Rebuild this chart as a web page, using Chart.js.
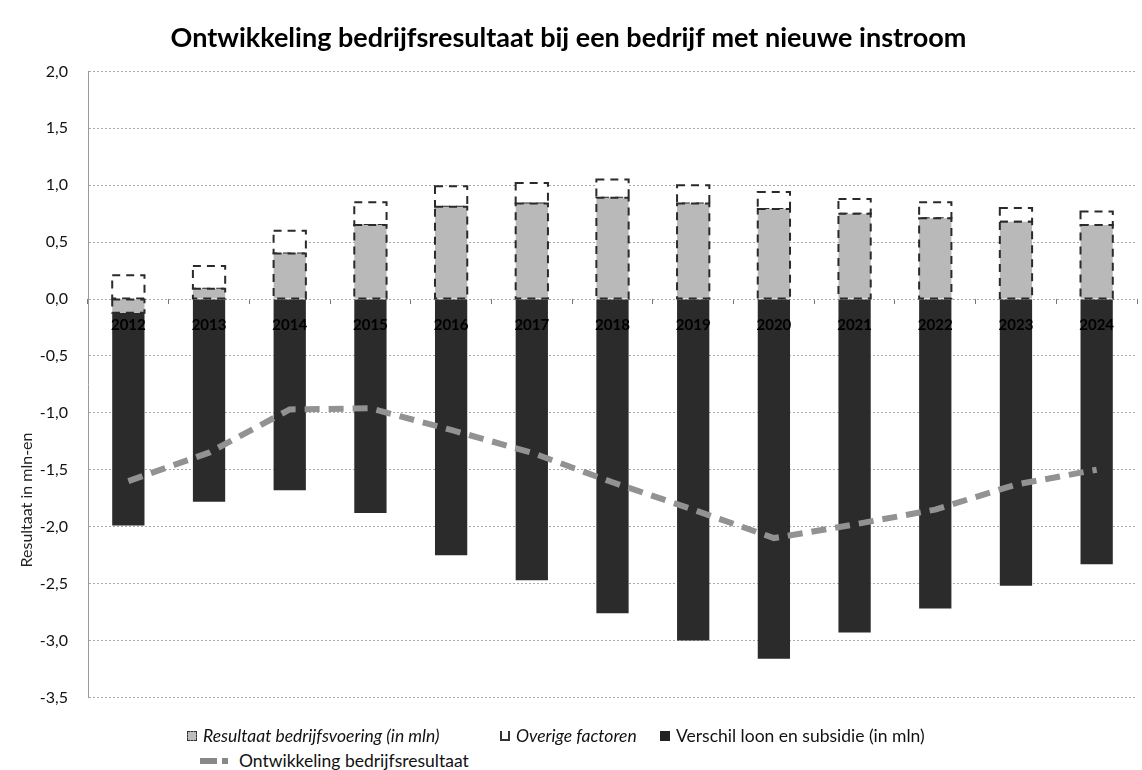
<!DOCTYPE html>
<html>
<head>
<meta charset="utf-8">
<script src="https://cdn.jsdelivr.net/npm/chart.js@4.4.1/dist/chart.umd.min.js"></script>
<style>
  html, body { margin: 0; padding: 0; background: #fff; overflow: hidden; }
  #wrap { position: relative; width: 1142px; height: 770px; font-family: Lato, sans-serif; }
  #chartBox { position: absolute; left: 0; top: 0; width: 1142px; height: 727px; }
  .lg { position: absolute; font-size: 17.5px; line-height: 20px; color: #111; white-space: nowrap; display: flex; align-items: center; }
  .lg i { font-style: italic; }
  .mk { display: inline-block; width: 10px; height: 10px; margin-right: 6px; box-sizing: border-box; }
</style>
</head>
<body>
<div id="wrap">
  <div id="chartBox"><canvas id="grafiek"></canvas></div>
  <div class="lg" style="left:187px; top:726px;"><span class="mk" style="background:#bdbdbd;border:1px dashed #333;"></span><i>Resultaat bedrijfsvoering (in mln)</i></div>
  <div class="lg" style="left:500px; top:726px;"><span class="mk" style="background:#fff;border:2px dashed #333;border-top:none;"></span><i>Overige factoren</i></div>
  <div class="lg" style="left:660px; top:726px;"><span class="mk" style="background:#222;"></span>Verschil loon en subsidie (in mln)</div>
  <div class="lg" style="left:200px; top:751px;"><span style="display:inline-block;width:30px;height:6px;margin-right:9px;background:linear-gradient(90deg,#888 0 17px,transparent 17px 22px,#888 22px 28px,transparent 28px);"></span>Ontwikkeling bedrijfsresultaat</div>
</div>
<script>
const jaren = ['2012', '2013', '2014', '2015', '2016', '2017', '2018', '2019', '2020', '2021', '2022', '2023', '2024']
const resultaatBedrijfsvoering = [-0.12, 0.09, 0.40, 0.65, 0.81, 0.84, 0.89, 0.84, 0.79, 0.75, 0.71, 0.68, 0.65]
const overigeFactoren          = [0.21, 0.20, 0.20, 0.20, 0.18, 0.18, 0.16, 0.16, 0.15, 0.13, 0.14, 0.12, 0.12]
const verschilLoonSubsidie     = [-1.87, -1.78, -1.68, -1.88, -2.25, -2.47, -2.76, -3.00, -3.16, -2.93, -2.72, -2.52, -2.33]
const ontwikkeling             = [-1.60, -1.35, -0.97, -0.96, -1.15, -1.35, -1.61, -1.85, -2.10, -1.98, -1.85, -1.63, -1.50]

// dashed outline around the light bars (Chart.js bars have no borderDash)
const gestippeldeRand = {
    id: 'gestippeldeRand',
    afterDatasetDraw(chart, args) {
        if (args.index !== 1 && args.index !== 2) return
        const ctx = chart.ctx
        ctx.save()
        ctx.strokeStyle = '#2a2a2a'
        ctx.lineWidth = 2
        ctx.setLineDash([8, 6])
        args.meta.data.forEach(bar => {
            const p = bar.getProps(['x', 'y', 'base', 'width'], true)
            const top = Math.min(p.y, p.base)
            const h = Math.abs(p.base - p.y)
            if (h < 1) return
            ctx.strokeRect(p.x - p.width / 2, top, p.width, h)
        })
        ctx.restore()
    }
}

// y-axis title sits lower than centre in the original
const asTitel = {
    id: 'asTitel',
    afterDraw(chart) {
        const ctx = chart.ctx
        ctx.save()
        ctx.translate(27, 500)
        ctx.rotate(-Math.PI / 2)
        ctx.font = '16px Lato'
        ctx.fillStyle = '#222'
        ctx.textAlign = 'center'
        ctx.textBaseline = 'middle'
        ctx.fillText('Resultaat in mln-en', 0, 0)
        ctx.restore()
    }
}

new Chart(document.getElementById('grafiek'), {
    type: 'bar',
    data: {
        labels: jaren,
        datasets: [
            {
                type: 'line',
                label: 'Ontwikkeling bedrijfsresultaat',
                data: ontwikkeling,
                borderColor: '#929292',
                borderWidth: 6,
                borderDash: [15, 9],
                pointRadius: 0,
                tension: 0,
                order: 0,
            },
            {
                label: 'Resultaat bedrijfsvoering (in mln)',
                data: resultaatBedrijfsvoering,
                backgroundColor: '#b9b9b9',
                stack: 's',
                order: 1,
            },
            {
                label: 'Overige factoren',
                data: overigeFactoren,
                backgroundColor: '#ffffff',
                stack: 's',
                order: 1,
            },
            {
                label: 'Verschil loon en subsidie (in mln)',
                data: verschilLoonSubsidie,
                backgroundColor: '#2b2b2b',
                stack: 's',
                order: 1,
            },
        ]
    },
    options: {
        responsive: true,
        maintainAspectRatio: false,
        animation: false,
        layout: { padding: { left: 0, right: 5, bottom: 1 } },
        datasets: { bar: { barPercentage: 0.8, categoryPercentage: 0.5 } },
        plugins: {
            legend: { display: false },
            tooltip: { enabled: false },
            title: {
                display: true,
                text: 'Ontwikkeling bedrijfsresultaat bij een bedrijf met nieuwe instroom',
                font: { family: 'Lato', size: 27, weight: 'bold' },
                color: '#000',
                padding: { top: 22, bottom: 17 },
            },
        },
        scales: {
            x: {
                position: { y: 0 },
                stacked: true,
                offset: true,
                grid: { drawOnChartArea: false, tickLength: 5, color: '#777', offset: true },
                border: { display: false },
                ticks: { z: 1, font: { family: 'Lato', size: 15, weight: 'bold' }, color: '#000', padding: 12 },
            },
            y: {
                stacked: true,
                min: -3.5,
                max: 2.0,
                afterFit: s => { s.width = 88 },
                ticks: {
                    stepSize: 0.5,
                    padding: 20,
                    font: { family: 'Lato', size: 16 },
                    color: '#111',
                    callback: v => v.toFixed(1).replace('.', ','),
                },
                grid: { color: '#a8a8a8', drawTicks: false, lineWidth: 1 },
                border: { color: '#999', dash: [2, 2] },
            }
        }
    },
    plugins: [gestippeldeRand, asTitel]
})
</script>
</body>
</html>
